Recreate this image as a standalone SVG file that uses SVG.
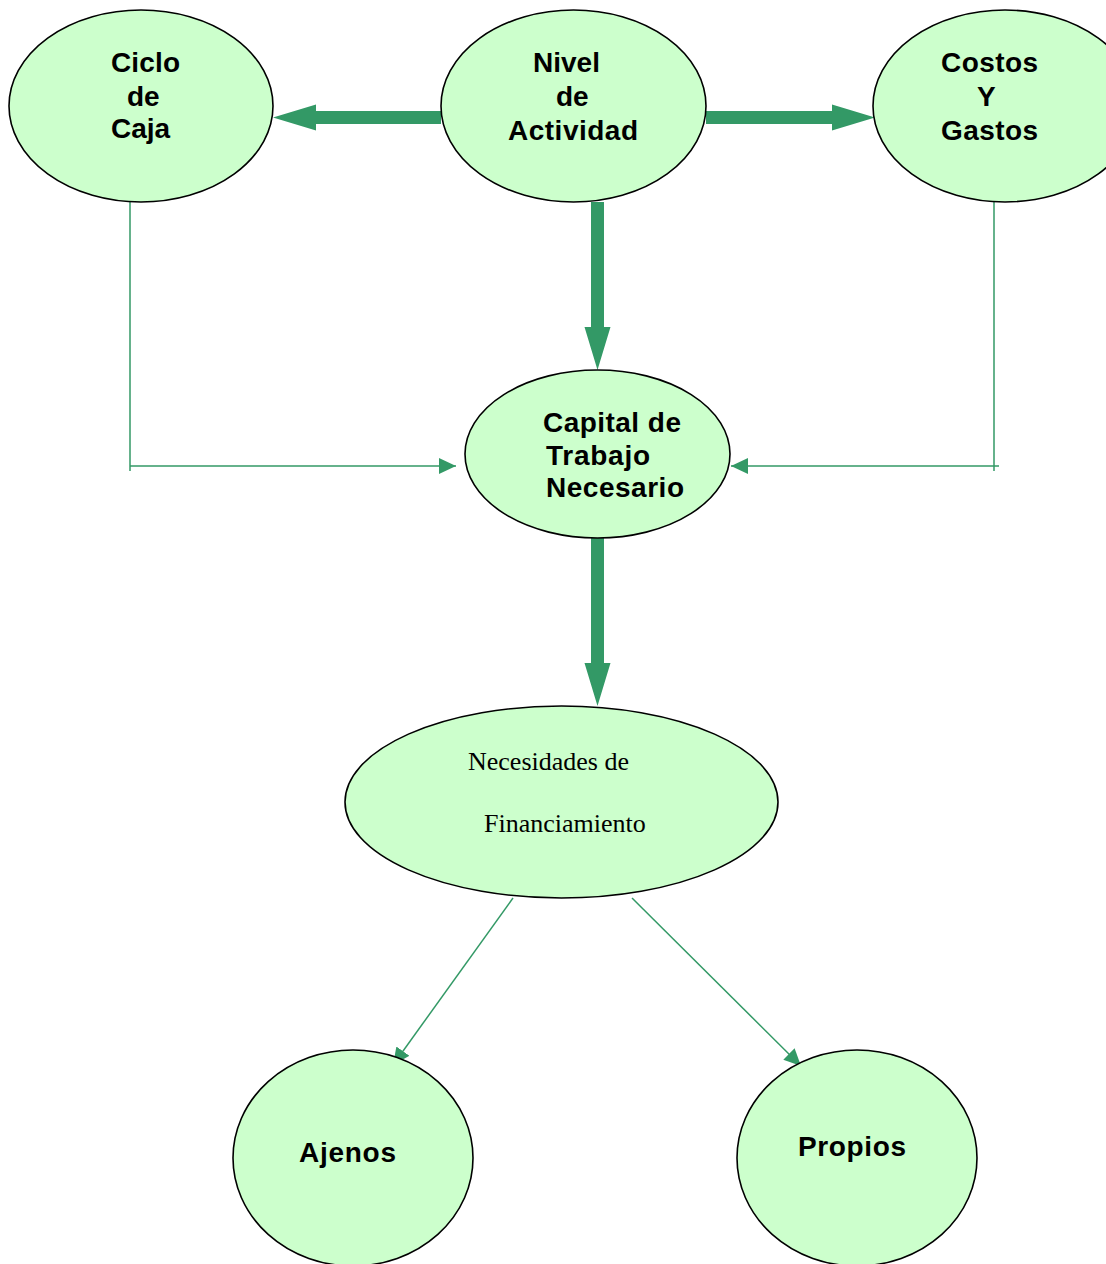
<svg xmlns="http://www.w3.org/2000/svg" width="1106" height="1264" viewBox="0 0 1106 1264">
<style>
.node{fill:#CCFFCC;stroke:#000;stroke-width:1.6}
.b{font-family:"Liberation Sans",Arial,sans-serif;font-weight:bold;font-size:28px;fill:#000}
.s{font-family:"Liberation Serif","Times New Roman",serif;font-size:26px;fill:#000}
.thick{fill:#339966}
.thin{fill:none;stroke:#339966;stroke-width:1.5}
</style>
<defs>
<marker id="ah" markerUnits="userSpaceOnUse" markerWidth="18" markerHeight="16" viewBox="0 0 18 16" refX="17" refY="8" orient="auto">
<path d="M0,0 L17,8 L0,16 Z" fill="#339966"/>
</marker>
</defs>
<rect width="1106" height="1264" fill="#fff"/>
<g id="connectors">
<polygon class="thick" points="441,111 316,111 316,104.5 273,117.5 316,130.5 316,124 441,124"/>
<polygon class="thick" points="706,111 832,111 832,104.5 875,117.5 832,130.5 832,124 706,124"/>
<polygon class="thick" points="591,202 604,202 604,327 610.5,327 597.5,370 584.5,327 591,327"/>
<polygon class="thick" points="591,538 604,538 604,663 610.5,663 597.5,706 584.5,663 591,663"/>
<line class="thin" x1="130" y1="202" x2="130" y2="471"/>
<line class="thin" x1="130" y1="466" x2="456" y2="466" marker-end="url(#ah)"/>
<line class="thin" x1="994" y1="202" x2="994" y2="471"/>
<line class="thin" x1="999" y1="466" x2="731" y2="466" marker-end="url(#ah)"/>
<line class="thin" x1="513" y1="898" x2="393" y2="1065" marker-end="url(#ah)"/>
<line class="thin" x1="632" y1="898" x2="801" y2="1066" marker-end="url(#ah)"/>
</g>
<g id="ciclo">
<ellipse class="node" cx="141" cy="106" rx="132" ry="96"/>
<text class="b" x="111" y="72" textLength="69">Ciclo</text>
<text class="b" x="127" y="106">de</text>
<text class="b" x="111" y="138" textLength="59">Caja</text>
</g>
<g id="nivel">
<ellipse class="node" cx="573.5" cy="106" rx="132.5" ry="96"/>
<text class="b" x="533" y="72">Nivel</text>
<text class="b" x="556" y="106">de</text>
<text class="b" x="508" y="140" textLength="130">Actividad</text>
</g>
<g id="costos">
<ellipse class="node" cx="1005" cy="106" rx="132" ry="96"/>
<text class="b" x="941" y="72" textLength="97">Costos</text>
<text class="b" x="977" y="106">Y</text>
<text class="b" x="941" y="140" textLength="97">Gastos</text>
</g>
<g id="capital">
<ellipse class="node" cx="597.5" cy="454" rx="132.5" ry="84"/>
<text class="b" x="543" y="432" textLength="138">Capital de</text>
<text class="b" x="546" y="465" textLength="104">Trabajo</text>
<text class="b" x="546" y="497" textLength="138">Necesario</text>
</g>
<g id="necesidades">
<ellipse class="node" cx="561.5" cy="802" rx="216.5" ry="96"/>
<text class="s" x="468" y="770">Necesidades de</text>
<text class="s" x="484" y="832">Financiamiento</text>
</g>
<g id="ajenos">
<ellipse class="node" cx="353" cy="1158" rx="120" ry="108"/>
<text class="b" x="299" y="1162" textLength="97">Ajenos</text>
</g>
<g id="propios">
<ellipse class="node" cx="857" cy="1158" rx="120" ry="108"/>
<text class="b" x="798" y="1156" textLength="108">Propios</text>
</g>
</svg>
